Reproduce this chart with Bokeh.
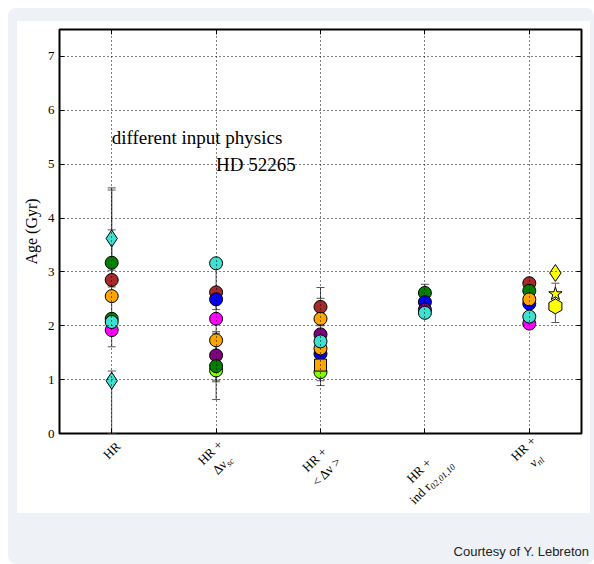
import math
from bokeh.plotting import figure
from bokeh.models import ColumnDataSource, Label, LinearAxis, FixedTicker, Div, Range1d
from bokeh.layouts import column
from bokeh.embed import file_html
from bokeh.resources import INLINE
from bokeh.core.properties import value

# ---------------- data ----------------
tick_pos = [1, 2, 3, 4, 5]
y_ticks = [0, 1, 2, 3, 4, 5, 6, 7]

# tick label pieces: line 1, line 2 (main part), line 2 subscript
label_line1 = ["HR", "HR +", "HR +", "HR +", "HR +"]
label_line2 = [None, "Δν", "< Δν >", "ind r", "ν"]
label_sub = [None, "sc", None, "02,01,10", "nl"]

# points in drawing order
pt_x = [1, 1, 1, 1, 1, 1, 1, 1,
        2, 2, 2, 2, 2, 2, 2, 2,
        3, 3, 3, 3, 3, 3, 3, 3,
        4, 4, 4, 4,
        5, 5, 5, 5, 5, 5,
        5.25, 5.25, 5.25]
pt_age = [3.62, 0.98, 1.92, 2.13, 2.85, 3.17, 2.55, 2.07,
          2.62, 2.49, 3.16, 2.13, 1.73, 1.45, 1.17, 1.25,
          2.35, 2.13, 1.48, 1.58, 1.84, 1.71, 1.14, 1.27,
          2.61, 2.44, 2.30, 2.24,
          2.79, 2.65, 2.41, 2.49, 2.04, 2.17,
          2.98, 2.36, 2.59]
pt_color = ["turquoise", "turquoise", "magenta", "green", "brown", "green", "orange", "turquoise",
            "brown", "blue", "turquoise", "magenta", "orange", "purple", "chartreuse", "green",
            "brown", "orange", "blue", "orange", "purple", "turquoise", "chartreuse", "orange",
            "green", "blue", "purple", "turquoise",
            "brown", "green", "blue", "orange", "magenta", "turquoise",
            "yellow", "yellow", "yellow"]
pt_marker = ["diamond", "diamond"] + ["circle"] * 6 + \
            ["circle"] * 8 + \
            ["circle"] * 7 + ["square"] + \
            ["circle"] * 4 + \
            ["circle"] * 6 + \
            ["diamond", "hex", "star"]

# error bars
err_x = [1, 1, 1, 1, 2, 2, 2, 2, 3, 3, 3, 4, 4, 5, 5.25]
err_lo = [3.03, 1.61, 2.72, 0.0, 2.30, 0.63, 0.96, 0.99, 2.00, 0.89, 0.98, 2.45, 2.20, 2.10, 2.06]
err_hi = [4.52, 4.56, 3.78, 1.16, 3.20, 1.89, 1.86, 2.40, 2.71, 1.40, 2.51, 2.77, 2.50, 2.75, 2.79]

# ---------------- styles ----------------
SERIF = "Liberation Serif"
marker_size = {"circle": 13, "diamond": 17, "square": 12, "star": 14, "hex": 15}
marker_angle = {"circle": 0, "diamond": 0, "square": 0, "star": 0, "hex": math.pi / 2}

p = figure(width=573, height=421, x_range=Range1d(0.5, 5.5), y_range=Range1d(0, 7.5),
           min_border_left=42, min_border_right=9, min_border_top=8, min_border_bottom=9,
           output_backend="svg", toolbar_location=None,
           background_fill_color="white", border_fill_color=None,
           x_axis_location=None, y_axis_location=None)
p.outline_line_color = "black"
p.outline_line_width = 2

def style_axis(ax, labels=True):
    ax.axis_line_color = None
    ax.major_tick_in = 5
    ax.major_tick_out = 0
    ax.minor_tick_line_color = None
    ax.major_tick_line_color = "black"
    ax.major_tick_line_width = 1
    if not labels:
        ax.major_label_standoff = 0
        ax.major_label_text_font_size = "0px"

left = LinearAxis(ticker=FixedTicker(ticks=y_ticks))
style_axis(left)
left.major_label_text_font = SERIF
left.major_label_text_font_size = "13px"
left.major_label_text_color = "black"
left.major_label_standoff = 5
left.axis_label = "Age (Gyr)"
left.axis_label_text_font = SERIF
left.axis_label_text_font_size = "16px"
left.axis_label_text_font_style = "normal"
left.axis_label_text_color = "black"
left.axis_label_standoff = 5
p.add_layout(left, "left")

right = LinearAxis(ticker=FixedTicker(ticks=y_ticks))
style_axis(right, False)
right.major_label_overrides = {t: "" for t in y_ticks}
p.add_layout(right, "right")

bottom = LinearAxis(ticker=FixedTicker(ticks=tick_pos))
style_axis(bottom, False)
bottom.major_label_overrides = {t: "" for t in tick_pos}
p.add_layout(bottom, "below")

top = LinearAxis(ticker=FixedTicker(ticks=tick_pos))
style_axis(top, False)
top.major_label_overrides = {t: "" for t in tick_pos}
p.add_layout(top, "above")

p.xgrid.ticker = FixedTicker(ticks=tick_pos)
p.ygrid.ticker = FixedTicker(ticks=y_ticks)
for g in (p.xgrid[0], p.ygrid[0]):
    g.grid_line_color = "black"
    g.grid_line_width = 1
    g.grid_line_dash = "1 3"
    g.level = "overlay"

# error bars
esrc = ColumnDataSource(dict(x=err_x, lo=err_lo, hi=err_hi))
p.segment(x0="x", y0="lo", x1="x", y1="hi", source=esrc, line_color="#555555", line_width=1)
p.scatter(x="x", y="lo", source=esrc, marker="dash", size=8, line_color="#555555", line_width=1)
p.scatter(x="x", y="hi", source=esrc, marker="dash", size=8, line_color="#555555", line_width=1)

# markers
psrc = ColumnDataSource(dict(
    x=pt_x, y=pt_age, color=pt_color, marker=pt_marker,
    size=[marker_size[m] for m in pt_marker],
    angle=[marker_angle[m] for m in pt_marker]))
p.scatter(x="x", y="y", source=psrc, marker="marker", size="size", angle="angle",
          fill_color="color", line_color="black", line_width=1)

# annotations
p.add_layout(Label(x=1, y=5.5, text="different input physics", text_font=SERIF,
                   text_font_size="19px", text_color="black", text_baseline="alphabetic"))
p.add_layout(Label(x=2, y=5.0, text="HD 52265", text_font=SERIF,
                   text_font_size="19px", text_color="black", text_baseline="alphabetic"))

# ---------------- tick-label strip (shares the x range, overlaps the plot's bottom border) ----------------
OVERLAP = 11
STRIP_H = 80 + OVERLAP - 9
pb = figure(width=573, height=STRIP_H, x_range=p.x_range,
            y_range=Range1d(-(STRIP_H - (OVERLAP - 9)), OVERLAP - 9),
            min_border_left=42, min_border_right=9, min_border_top=0, min_border_bottom=0,
            output_backend="svg", toolbar_location=None,
            background_fill_color=None, border_fill_color=None,
            x_axis_location=None, y_axis_location=None)
pb.outline_line_color = None
pb.xgrid.visible = False
pb.ygrid.visible = False

px_per_unit = 522 / 5.0
c45 = math.cos(math.pi / 4)
u = (c45, -c45)   # along text (screen, y down)
n = (c45, c45)    # next line direction
block_dy = [17, 25, 32, 43, 21]
half_line = 8.5
main_w = {"Δν": 14.4, "ind r": 25.0, "ν": 6.5}
sub_w = {"sc": 7.5, "02,01,10": 31.5, "nl": 7.0}

lx, ly, lt, lsize, lstyle, lalign = [], [], [], [], [], []
def add_piece(xp, sx, sy, text, size, style, align):
    lx.append(xp + sx / px_per_unit); ly.append(-sy); lt.append(text)
    lsize.append(size); lstyle.append(style); lalign.append(align)

for i, xp in enumerate(tick_pos):
    cx, cy = 0.0, block_dy[i]
    if label_line2[i] is None:
        add_piece(xp, cx, cy, label_line1[i], "13px", "normal", "center")
        continue
    l1 = (cx - half_line * n[0], cy - half_line * n[1])
    l2 = (cx + half_line * n[0], cy + half_line * n[1])
    add_piece(xp, l1[0], l1[1], label_line1[i], "13px", "normal", "center")
    if label_sub[i] is None:
        add_piece(xp, l2[0], l2[1], label_line2[i], "13px", "normal", "center")
    else:
        shift = (main_w[label_line2[i]] - sub_w[label_sub[i]]) / 2
        qx, qy = l2[0] + u[0] * shift, l2[1] + u[1] * shift
        mstyle = "italic" if label_line2[i] == "ν" else "normal"
        add_piece(xp, qx, qy, label_line2[i], "13px", mstyle, "right")
        add_piece(xp, qx + 4 * n[0], qy + 4 * n[1], label_sub[i], "9px", "italic", "left")

lsrc = ColumnDataSource(dict(x=lx, y=ly, text=lt, size=lsize, style=lstyle, align=lalign))
pb.text(x="x", y="y", text="text", source=lsrc, angle=math.pi / 4,
        text_font=value(SERIF), text_font_size="size", text_font_style="style",
        text_align="align", text_baseline="middle", text_color="black")

p.margin = (0, 0, 0, 0)
pb.margin = (-OVERLAP, 0, 0, 0)

white_box = column(p, pb, spacing=0, margin=(13, 4, 0, 9),
                   styles={"background-color": "white"})

credit = Div(text="Courtesy of Y. Lebreton", width=572, height=51, margin=(0, 5, 0, 9),
             styles={"font-family": "Liberation Sans, Arial, sans-serif", "font-size": "13px",
                     "color": "#222222", "text-align": "right", "padding-top": "30px",
                     "box-sizing": "border-box"})

layout = column(white_box, credit, spacing=0, margin=(8, 0, 0, 8),
                styles={"background-color": "#eef2f7", "border-radius": "8px"})

open("out.html", "w").write(file_html(layout, INLINE))
